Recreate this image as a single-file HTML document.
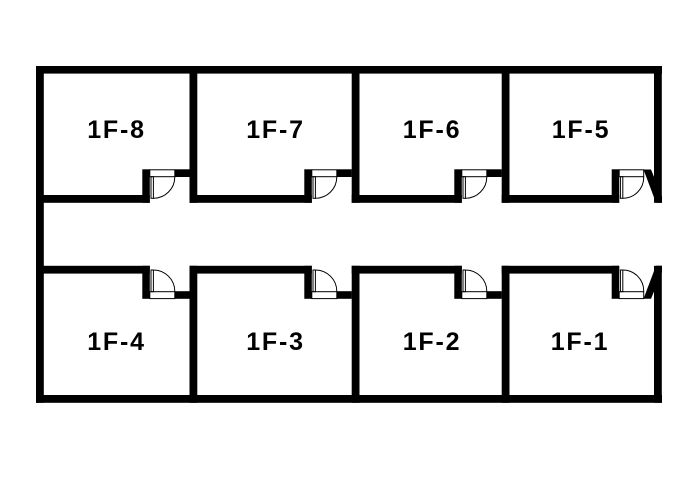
<!DOCTYPE html>
<html>
<head>
<meta charset="utf-8">
<style>
  html,body{margin:0;padding:0;background:#fff;}
  body{width:688px;height:484px;overflow:hidden;}
  svg{display:block;}
  text{font-family:"Liberation Sans",Arial,sans-serif;font-weight:bold;font-size:25px;letter-spacing:1.8px;fill:#000;}
</style>
</head>
<body>
<svg width="688" height="484" viewBox="0 0 688 484" xmlns="http://www.w3.org/2000/svg">
  <g fill="#000">
    <!-- outer walls -->
    <rect x="36" y="66" width="626" height="7.6"/>
    <rect x="36" y="395" width="626" height="7.8"/>
    <rect x="36" y="66" width="7.8" height="336.8"/>
    <rect x="654" y="66" width="7.8" height="136.8"/>
    <rect x="654" y="265.8" width="7.8" height="137"/>

    <!-- top partitions -->
    <rect x="189.5" y="66" width="7.8" height="136.8"/>
    <rect x="351.7" y="66" width="7.8" height="136.8"/>
    <rect x="501.7" y="66" width="7.8" height="136.8"/>
    <!-- bottom partitions -->
    <rect x="189.5" y="265.8" width="7.8" height="137"/>
    <rect x="351.7" y="265.8" width="7.8" height="137"/>
    <rect x="501.7" y="265.8" width="7.8" height="137"/>

    <!-- top rooms lower wall segments -->
    <rect x="36" y="195" width="113.8" height="7.8"/>
    <rect x="189.5" y="195" width="122.3" height="7.8"/>
    <rect x="351.7" y="195" width="110.1" height="7.8"/>
    <rect x="501.7" y="195" width="117.5" height="7.8"/>
    <!-- top notches -->
    <rect x="142.3" y="169.3" width="7.5" height="33.5"/>
    <rect x="304.3" y="169.3" width="7.5" height="33.5"/>
    <rect x="454.3" y="169.3" width="7.5" height="33.5"/>
    <rect x="611.7" y="169.3" width="7.5" height="33.5"/>
    <!-- top stubs -->
    <rect x="174.8" y="169.3" width="15" height="7.7"/>
    <rect x="336.8" y="169.3" width="15" height="7.7"/>
    <rect x="486.8" y="169.3" width="15" height="7.7"/>

    <!-- bottom rooms upper wall segments -->
    <rect x="36" y="265.8" width="113.8" height="7.8"/>
    <rect x="189.5" y="265.8" width="122.3" height="7.8"/>
    <rect x="351.7" y="265.8" width="110.1" height="7.8"/>
    <rect x="501.7" y="265.8" width="117.5" height="7.8"/>
    <!-- bottom notches -->
    <rect x="142.3" y="265.8" width="7.5" height="33"/>
    <rect x="304.3" y="265.8" width="7.5" height="33"/>
    <rect x="454.3" y="265.8" width="7.5" height="33"/>
    <rect x="611.7" y="265.8" width="7.5" height="33"/>
    <!-- bottom stubs -->
    <rect x="174.8" y="291.2" width="15" height="7.6"/>
    <rect x="336.8" y="291.2" width="15" height="7.6"/>
    <rect x="486.8" y="291.2" width="15" height="7.6"/>

    <!-- right end diagonals -->
    <polygon points="643.5,169.5 651,169.5 662,196.5 662,202.8 656,202.8"/>
    <polygon points="643.5,298.8 651,298.8 662,272 662,265.8 656,265.8"/>
  </g>

  <!-- door frames -->
  <g fill="#fff" stroke="#000" stroke-width="1">
    <rect x="149.8" y="169.8" width="25" height="6.9"/>
    <rect x="311.8" y="169.8" width="25" height="6.9"/>
    <rect x="461.8" y="169.8" width="25" height="6.9"/>
    <rect x="619.2" y="169.8" width="24.5" height="6.9"/>
    <rect x="149.8" y="291.7" width="25" height="6.9"/>
    <rect x="311.8" y="291.7" width="25" height="6.9"/>
    <rect x="461.8" y="291.7" width="25" height="6.9"/>
    <rect x="619.2" y="291.7" width="24.5" height="6.9"/>
  </g>
  <g fill="none" stroke="#000" stroke-width="1">
    <!-- top leaves -->
    <rect x="151" y="176.7" width="2.4" height="21.6"/>
    <rect x="313" y="176.7" width="2.4" height="21.6"/>
    <rect x="463" y="176.7" width="2.4" height="21.6"/>
    <rect x="620.4" y="176.7" width="2.4" height="21.6"/>
    <path d="M153.4 198.3 A21.4 21.4 0 0 0 174.8 176.9"/>
    <path d="M315.4 198.3 A21.4 21.4 0 0 0 336.8 176.9"/>
    <path d="M465.4 198.3 A21.4 21.4 0 0 0 486.8 176.9"/>
    <path d="M622.8 198.3 A20.9 20.9 0 0 0 643.7 176.9"/>
    <!-- bottom leaves -->
    <rect x="151" y="270" width="2.4" height="21.7"/>
    <rect x="313" y="270" width="2.4" height="21.7"/>
    <rect x="463" y="270" width="2.4" height="21.7"/>
    <rect x="620.4" y="270" width="2.4" height="21.7"/>
    <path d="M153.4 270 A21.4 21.4 0 0 1 174.8 291.5"/>
    <path d="M315.4 270 A21.4 21.4 0 0 1 336.8 291.5"/>
    <path d="M465.4 270 A21.4 21.4 0 0 1 486.8 291.5"/>
    <path d="M622.8 270 A20.9 20.9 0 0 1 643.7 291.5"/>
  </g>

  <!-- labels -->
  <text x="116.5" y="137.9" text-anchor="middle">1F-8</text>
  <text x="275.5" y="137.9" text-anchor="middle">1F-7</text>
  <text x="432" y="137.9" text-anchor="middle">1F-6</text>
  <text x="581" y="137.9" text-anchor="middle">1F-5</text>
  <text x="116.5" y="349.8" text-anchor="middle">1F-4</text>
  <text x="275.5" y="349.8" text-anchor="middle">1F-3</text>
  <text x="432" y="349.8" text-anchor="middle">1F-2</text>
  <text x="580" y="349.8" text-anchor="middle">1F-1</text>
</svg>
</body>
</html>
